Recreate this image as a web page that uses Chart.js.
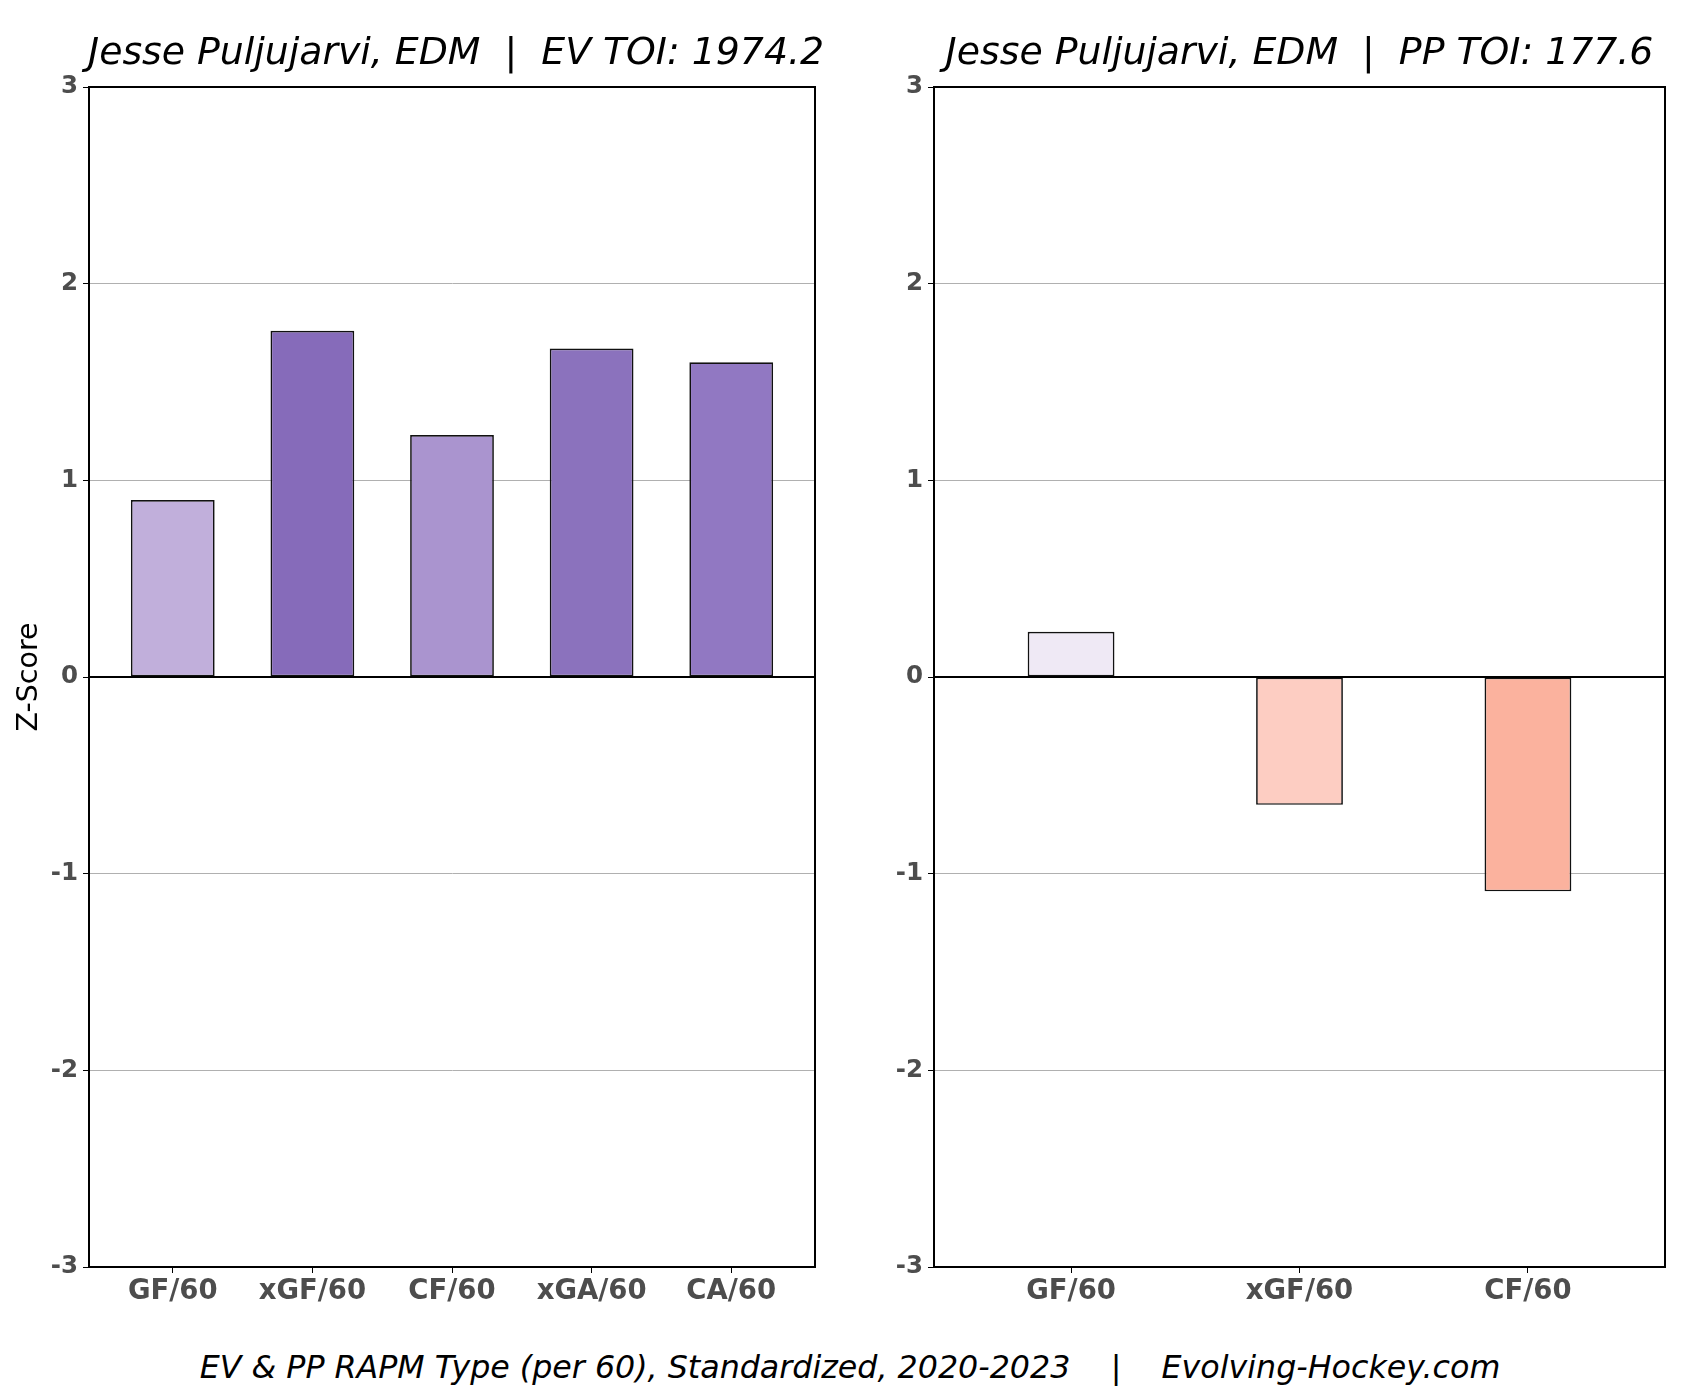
<!DOCTYPE html>
<html>
<head>
<meta charset="utf-8">
<script src="https://cdn.jsdelivr.net/npm/chart.js@4.4.0/dist/chart.umd.min.js"></script>
<style>
  body { margin: 0; background: #fff; }
  #wrap { position: relative; width: 1700px; height: 1400px; background: #fff; font-family: "DejaVu Sans", sans-serif; }
  canvas { position: absolute; top: 0; }
  .titulo { position: absolute; top: 31px; height: 40px; line-height: 40px; font-size: 37.8px; font-style: italic; white-space: pre; text-align: center; color: #000; }
  #pie { position: absolute; top: 1350px; left: 0; width: 1700px; line-height: 34px; font-size: 31.7px; font-style: italic; white-space: pre; text-align: center; color: #000; }
</style>
</head>
<body>
<div id="wrap">
  <canvas id="grafica-ev" width="850" height="1320" style="left:0"></canvas>
  <canvas id="grafica-pp" width="850" height="1320" style="left:850px"></canvas>
  <div class="titulo" style="left:88px;width:726px">Jesse Puljujarvi, EDM  |  EV TOI: 1974.2</div>
  <div class="titulo" style="left:934px;width:731px">Jesse Puljujarvi, EDM  |  PP TOI: 177.6</div>
  <div id="pie">EV &amp; PP RAPM Type (per 60), Standardized, 2020-2023    |    Evolving-Hockey.com</div>
</div>
<script>
// Datos
const evCategorias = ['GF/60', 'xGF/60', 'CF/60', 'xGA/60', 'CA/60'];
const evValores = [0.90, 1.76, 1.23, 1.67, 1.60];
const evColores = ['#c1afdb', '#866bba', '#aa94cf', '#8b72bd', '#9178c2'];

const ppCategorias = ['GF/60', 'xGF/60', 'CF/60'];
const ppValores = [0.23, -0.65, -1.09];
const ppColores = ['#efe9f5', '#fdcdc2', '#fbb29e'];

const yTicks = [-3, -2, -1, 0, 1, 2, 3];

// borde completo del area + linea del cero
const marco = {
  id: 'marco',
  afterDatasetsDraw(chart) {
    const a = chart.chartArea;
    const ctx = chart.ctx;
    ctx.save();
    const y0 = chart.scales.y.getPixelForValue(0);
    ctx.strokeStyle = '#000';
    ctx.lineWidth = 2;
    ctx.beginPath();
    ctx.moveTo(a.left, y0);
    ctx.lineTo(a.right, y0);
    ctx.stroke();
    ctx.strokeRect(a.left, a.top, a.right - a.left, a.bottom - a.top);
    ctx.restore();
  }
};

function crearGrafico(id, categorias, valores, colores, anchoBarra, anchoEjeY, conTituloY) {
  const ctx = document.getElementById(id).getContext('2d');
  return new Chart(ctx, {
    type: 'bar',
    data: {
      datasets: [{
        data: valores.map((v, i) => ({ x: i, y: v })),
        backgroundColor: colores,
        borderColor: '#111',
        borderWidth: 1.7,
        borderSkipped: false,
        barPercentage: anchoBarra,
        categoryPercentage: 1
      }]
    },
    options: {
      responsive: false,
      animation: false,
      devicePixelRatio: 1,
      layout: { padding: { top: 87, right: 35, left: 0, bottom: 0 } },
      plugins: {
        legend: { display: false },
        tooltip: { enabled: false },
        title: { display: false }
      },
      scales: {
        x: {
          type: 'linear',
          offset: false,
          min: -0.6,
          max: categorias.length - 0.4,
          afterFit: s => { s.height = 53; },
          afterBuildTicks: s => { s.ticks = categorias.map((c, i) => ({ value: i })); },
          ticks: {
            autoSkip: false,
            maxRotation: 0,
            padding: 2,
            color: '#4d4d4d',
            font: { family: 'DejaVu Sans', size: 27.5, weight: 'bold' },
            callback: v => categorias[v] ?? ''
          },
          grid: { offset: false, drawOnChartArea: false, drawTicks: true, tickLength: 6, tickColor: '#000' },
          border: { color: '#000', width: 2 }
        },
        y: {
          min: -3,
          max: 3,
          afterFit: s => { s.width = anchoEjeY; },
          afterBuildTicks: s => { s.ticks = yTicks.map(v => ({ value: v })); },
          ticks: {
            padding: 5,
            color: '#4d4d4d',
            font: { family: 'DejaVu Sans', size: 24.5, weight: 'bold' }
          },
          grid: { color: '#b0b0b0', lineWidth: 1, tickLength: 6, tickColor: '#000' },
          border: { color: '#000', width: 2 },
          title: {
            display: conTituloY,
            text: 'Z-Score',
            color: '#000',
            padding: { top: 12, bottom: 0 },
            font: { family: 'DejaVu Sans', size: 28.5 }
          }
        }
      }
    },
    plugins: [marco]
  });
}

const graficoEV = crearGrafico('grafica-ev', evCategorias, evValores, evColores, 0.6, 89, true);
const graficoPP = crearGrafico('grafica-pp', ppCategorias, ppValores, ppColores, 0.38, 84, false);
</script>
</body>
</html>
